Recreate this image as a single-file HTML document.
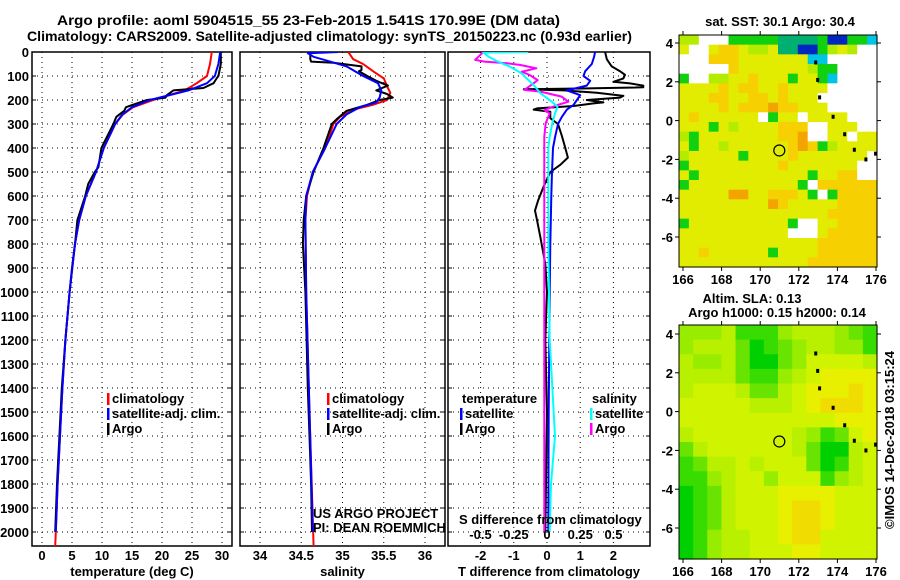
<!DOCTYPE html>
<html><head><meta charset="utf-8"><style>
html,body{margin:0;padding:0;background:#fff;}
svg{display:block;font-family:"Liberation Sans",Arial,sans-serif;}
.b{font-weight:bold;font-size:13px;}
</style></head><body>
<svg id="fig" width="900" height="580" viewBox="0 0 900 580" xmlns="http://www.w3.org/2000/svg">
<rect width="900" height="580" fill="#fff"/>
<text x="57" y="25" font-size="14" font-weight="bold" textLength="503" lengthAdjust="spacingAndGlyphs">Argo profile: aoml 5904515_55 23-Feb-2015 1.541S 170.99E (DM data)</text>
<text x="27" y="41" font-size="14" font-weight="bold" textLength="605" lengthAdjust="spacingAndGlyphs">Climatology: CARS2009. Satellite-adjusted climatology: synTS_20150223.nc (0.93d earlier)</text>
<g id="panels"></g>
<g id="maps"></g>
</svg>
<script>
// ---------- profile data ----------
const tDepthArgo=[0,50,100,110,130,150,160,180,190,200,230,245,270,300,400,480,500,550,600,700,800,900,1000,1200,1400,1600,1800,2000];
const tArgo=[29.8,29.8,29.4,29.1,28.6,26.9,21.9,20.8,20.6,17.5,14.0,13.7,12.4,11.9,9.9,9.4,8.8,7.7,7.2,5.9,5.5,5.0,4.6,3.9,3.3,2.9,2.5,2.2];
const tDepthClim=[0,50,100,130,160,200,230,260,300,400,500,600,700,800,1000,1200,1400,1600,1800,2000,2060];
const tClim=[28.3,28.0,27.5,25.8,23.8,18.5,15.2,13.5,12.2,10.3,9.0,7.3,6.2,5.5,4.6,3.9,3.4,3.0,2.6,2.3,2.2];
const tDepthSat=[0,50,100,130,160,200,230,260,300,400,500,600,700,800,1000,1200,1400,1600,1800,2000];
const tSat=[29.7,29.4,28.8,27.5,24.4,18.0,15.0,13.4,12.2,10.3,9.0,7.3,6.2,5.5,4.6,3.9,3.4,3.0,2.6,2.3];

const sDepthArgo=[0,30,40,45,60,75,80,100,120,140,160,175,190,200,220,245,280,300,400,500,600,700,800,1000,1400,1600,1800,2000];
const sArgo=[34.61,34.61,34.62,34.89,35.23,35.23,35.20,35.30,35.41,35.55,35.41,35.54,35.61,35.45,35.30,35.05,34.93,34.87,34.77,34.65,34.56,34.53,34.52,34.55,34.58,34.60,34.62,34.63];
const sDepthClim=[0,30,50,80,110,150,170,200,220,240,270,300,400,500,600,700,1000,1500,2060];
const sClim=[35.07,35.13,35.25,35.37,35.50,35.55,35.58,35.54,35.37,35.13,34.97,34.89,34.79,34.64,34.57,34.55,34.56,34.60,34.65];
const sDepthSat=[0,5,20,40,60,100,130,160,190,210,230,260,300,400,500,600,700,1000,1500,2000];
const sSat=[34.95,34.58,34.65,34.85,35.05,35.25,35.43,35.47,35.45,35.41,35.21,35.05,34.93,34.79,34.64,34.56,34.55,34.56,34.60,34.64];

const dTDepthArgo=[0,30,60,80,95,110,124,131,140,147,152,155,160,170,183,190,200,210,214,225,235,240,249,276,300,350,400,440,470,500,560,620,661,700,772,883,1000,1200,1500,2000];
const dTArgo=[1.75,1.8,1.95,2.2,2.35,2.3,2.0,2.5,2.9,2.9,1.0,-0.7,0.5,1.5,2.3,2.2,1.2,1.7,1.4,0.8,-0.3,-0.4,0.1,0.1,0.33,0.45,0.55,0.63,0.4,0.1,-0.1,-0.27,-0.36,-0.3,-0.2,-0.05,0.0,-0.05,0.0,-0.05];
const dTDepthSat=[0,20,50,80,100,120,140,160,180,200,220,240,270,300,350,400,500,600,800,1000,1500,2000];
const dTSat=[1.45,1.42,1.35,1.15,1.1,1.3,1.2,0.6,1.0,0.9,0.8,0.6,0.45,0.33,0.25,0.18,0.15,0.13,0.1,0.08,0.05,0.04];
const dSDepthSat=[0,2,19,40,61,89,117,144,172,200,228,256,297,353,400,800,1200,1600,1800,2000];
const dSSat=[-0.14,-0.48,-0.44,-0.37,-0.28,-0.19,-0.14,-0.09,-0.05,0.02,0.08,0.06,0.04,0.02,0.01,0.01,0.02,0.06,0.03,0.02];
const dSDepthArgo=[0,33,40,47,54,68,82,96,117,130,158,165,186,207,221,242,256,297,353,800,1500,2000];
const dSArgo=[-0.48,-0.54,-0.47,-0.3,-0.2,-0.08,-0.19,-0.13,-0.07,-0.1,-0.17,-0.05,0.11,0.16,0.08,-0.02,0.02,-0.01,-0.02,-0.02,-0.02,-0.02];

const depthTicks=[0,100,200,300,400,500,600,700,800,900,1000,1100,1200,1300,1400,1500,1600,1700,1800,1900,2000];
const tTicks=[0,5,10,15,20,25,30];
const sTicks=[34,34.5,35,35.5,36];
const sTickLabels=["34","34.5","35","35.5","36"];
const dTTicks=[-2,-1,0,1,2];
const dSTicks=[-0.5,-0.25,0,0.25,0.5];
const dSTickLabels=["-0.5","-0.25","0","0.25","0.5"];

// ---------- map data ----------
const sstRows=[
"LLWWWGGGGGTTTTGBBGGC",
"YWWYOOYLLYTTBBGLYLWW",
"WWWOOOYYYYYYYCCWWWWW",
"WWWWWOYYYYYYYLGGWWWW",
"GWWLLYYOYYYGYYGCWWWW",
"YYYYOYOOYYOYYYYWWWWW",
"YYYOOYYOOYOYYYWWWWWW",
"YYYYOYOOOROOYYYWWWWW",
"YOYYYYYYWGYYWYYYYWWW",
"YYYGYLYYYYOOOWWYYYWW",
"LGYYYYYYYYOORWWYYWYY",
"YGYYLYYYYYYOROGLYYYY",
"LYYYYYGYYYYOYYYYYYYW",
"GYYYYYYYYYOYYYYYYYWW",
"YGYYYYYYYYYYYGYYOOWW",
"GYYYYYYYYYYYGWOOOOOO",
"YYYYYRRYYOOOYGWGOOOO",
"YYYYYYYYYROYYYYYOOOO",
"YYYYYYYYYYYYYYYOOOOO",
"GYYYYYYYYYYGWWYYOOOO",
"YYYYYYYYYYYWWWYOOOOO",
"YYYYYYYYYYYYYYOOOOOO",
"YYOYYYYYYGYYYYOOOOOO",
"YYYYYYYYYYYYYOOOOOOO"];
const slaRows=[
"44452224555432",
"45553123455442",
"54453113466665",
"55553224567777",
"56665335677787",
"66666555678887",
"66666666666777",
"56666666542367",
"35666666531156",
"23556566631256",
"22456646662456",
"12356667777666",
"12356667887666",
"12356667887666",
"12455667886666",
"12455666776666"];
const lonTicks=[166,168,170,172,174,176];
const latTicks=[4,2,0,-2,-4,-6];
const floatLon=170.99, floatLat=-1.541;

const NS="http://www.w3.org/2000/svg";
const panels=document.getElementById('panels');
const maps=document.getElementById('maps');
function mk(tag,attrs,parent){const e=document.createElementNS(NS,tag);for(const k in attrs)e.setAttribute(k,attrs[k]);(parent||panels).appendChild(e);return e;}
function txt(s,x,y,anchor,cls,parent,extra){const e=mk('text',Object.assign({x:x,y:y,'text-anchor':anchor||'middle','class':cls||'b'},extra||{}),parent);e.textContent=s;return e;}

const Y0=52, YPX=0.24, YBOT=546;
const yD=d=>Y0+d*YPX;

const P=[
 {x0:32,x1:232,fx:v=>42+v*6,ticks:tTicks,labels:tTicks.map(String),title:"temperature (deg C)",name:"temperature"},
 {x0:240,x1:445,fx:v=>260+(v-34)*82.5,ticks:sTicks,labels:sTickLabels,title:"salinity",name:"salinity"},
 {x0:448,x1:650,fx:v=>547+v*33.2,ticks:dTTicks,labels:dTTicks.map(String),title:"T difference from climatology",name:"difference"}
];
const fS=v=>547+v*133;

P.forEach((p,i)=>{
  const g=mk('g',{});
  
  
  depthTicks.forEach(d=>{ if(d>0){const l=mk('line',{x1:p.x0,x2:p.x1,y1:yD(d),y2:yD(d),stroke:'#000','stroke-width':1,'stroke-dasharray':'1,4'},g);}
    mk('line',{x1:p.x0,x2:p.x0+4,y1:yD(d),y2:yD(d),stroke:'#000'},g);
    mk('line',{x1:p.x1-4,x2:p.x1,y1:yD(d),y2:yD(d),stroke:'#000'},g);
  });
  p.ticks.forEach((v,j)=>{const x=p.fx(v);
    const l=mk('line',{x1:x,x2:x,y1:Y0,y2:YBOT,stroke:'#000','stroke-width':1,'stroke-dasharray':'1,4'},g);
    
    const t=txt(p.labels[j],x,560,'middle','b',g);
    
  });
  const r=mk('rect',{x:p.x0,y:Y0,width:p.x1-p.x0,height:YBOT-Y0,fill:'none',stroke:'#000','stroke-width':1.5},g);
  
  const at=txt(p.title,(p.x0+p.x1)/2,576,'middle','b',g);
  
});
depthTicks.forEach(d=>{const t=txt(String(d),29,yD(d)+5,'end','b');
  });

function line(depths,vals,fx,color,name,clip){
  const pts=depths.map((d,i)=>fx(vals[i]).toFixed(1)+','+yD(d).toFixed(1)).join(' ');
  const e=mk('polyline',{points:pts,fill:'none',stroke:color,'stroke-width':2,'stroke-linejoin':'round','clip-path':clip});
  
  
}
const defs=mk('defs',{});
P.forEach((p,i)=>{const c=mk('clipPath',{id:'cp'+i},defs);mk('rect',{x:p.x0,y:Y0,width:p.x1-p.x0,height:YBOT-Y0},c);});
line(tDepthClim,tClim,P[0].fx,'#f00','temp-climatology-line','url(#cp0)');
line(tDepthArgo,tArgo,P[0].fx,'#000','temp-argo-line','url(#cp0)');
line(tDepthSat,tSat,P[0].fx,'#00f','temp-satellite-line','url(#cp0)');
line(sDepthClim,sClim,P[1].fx,'#f00','sal-climatology-line','url(#cp1)');
line(sDepthArgo,sArgo,P[1].fx,'#000','sal-argo-line','url(#cp1)');
line(sDepthSat,sSat,P[1].fx,'#00f','sal-satellite-line','url(#cp1)');
line(dTDepthArgo,dTArgo,P[2].fx,'#000','tdiff-argo-line','url(#cp2)');
line(dTDepthSat,dTSat,P[2].fx,'#00f','tdiff-satellite-line','url(#cp2)');
line(dSDepthArgo,dSArgo,fS,'#f0f','sdiff-argo-line','url(#cp2)');
line(dSDepthSat,dSSat,fS,'#0ff','sdiff-satellite-line','url(#cp2)');

dSTicks.forEach((v,j)=>{const t=txt(dSTickLabels[j],fS(v),539,'middle','b');
  });
const sdt=txt('S difference from climatology',459,524,'start','b');


function legend(x,y,color,label,name){
  const m=mk('rect',{x:x,y:y-10,width:2.5,height:12,fill:color});
  
  const t=txt(label,x+5,y,'start','b');
  
}
legend(107,403,'#f00','climatology','legend-temp-climatology');
legend(107,418,'#00f','satellite-adj. clim.','legend-temp-satellite');
legend(107,433,'#000','Argo','legend-temp-argo');
legend(327,403,'#f00','climatology','legend-sal-climatology');
legend(327,418,'#00f','satellite-adj. clim.','legend-sal-satellite');
legend(327,433,'#000','Argo','legend-sal-argo');
const lt=txt('temperature',462,403,'start','b');
legend(460,418,'#00f','satellite','legend-tdiff-satellite');
legend(460,433,'#000','Argo','legend-tdiff-argo');
const ls=txt('salinity',592,403,'start','b');
legend(590,418,'#0ff','satellite','legend-sdiff-satellite');
legend(590,433,'#f0f','Argo','legend-sdiff-argo');

const c1=txt('US ARGO PROJECT',313,518,'start','',null,{'font-size':'12.5'});

const c2=txt('PI: DEAN ROEMMICH',313,532,'start','',null,{'font-size':'12.5'});


// ---------- maps ----------
const sstColor={Y:'#e2ec00',O:'#f6d000',R:'#f4a400',G:'#10d010',L:'#b4ec00',W:'#ffffff',C:'#00c4e4',B:'#0028c0',T:'#00b070'};
const slaColor=['#00c800','#00d000','#38dc00','#68e400','#98ec00','#b8f000','#d0f400','#e8f000','#f0dc00','#f0c800'];
function drawMap(m){
  const g=mk('g',{},maps);
  
  
  const lonX=lo=>683+(lo-166)*19.3;
  const latY=la=>m.y4+(4-la)*19.4;
  const rows=m.rows, nr=rows.length, nc=rows[0].length;
  const cw=(m.x1-m.x0)/nc, ch=(m.y1-m.y0)/nr;
  rows.forEach((row,ri)=>{for(let ci=0;ci<nc;ci++){
    const c=mk('rect',{x:(m.x0+ci*cw).toFixed(2),y:(m.y0+ri*ch).toFixed(2),width:(cw+0.6).toFixed(2),height:(ch+0.6).toFixed(2),fill:m.color(row[ci])},g);
    
    
  }});
  const f=mk('rect',{x:m.x0,y:m.y0,width:m.x1-m.x0,height:m.y1-m.y0,fill:'none',stroke:'#000','stroke-width':1},g);
  
  lonTicks.forEach(lo=>{const x=lonX(lo);
    mk('line',{x1:x,x2:x,y1:m.y1,y2:m.y1+4,stroke:'#000'},g);mk('line',{x1:x,x2:x,y1:m.y0,y2:m.y0-4,stroke:'#000'},g);
    const t=txt(String(lo),x,m.y1+17,'middle','b',g);});
  latTicks.forEach(la=>{const y=latY(la);
    mk('line',{x1:m.x0-4,x2:m.x0,y1:y,y2:y,stroke:'#000'},g);mk('line',{x1:m.x1,x2:m.x1+4,y1:y,y2:y,stroke:'#000'},g);
    const t=txt(String(la),673,y+5,'end','b',g);});
  const fc=mk('circle',{cx:lonX(floatLon),cy:latY(floatLat),r:5.5,fill:'none',stroke:'#000','stroke-width':1.2},g);
  
  [[172.8,3.1],[172.9,2.2],[173.0,1.3],[173.7,0.3],[174.3,-0.6],[174.8,-1.4],[175.4,-1.9],[175.9,-1.6]].forEach(p=>{
    const s=mk('rect',{x:lonX(p[0]),y:latY(p[1]),width:3,height:4,fill:'#000'},g);
    });
}
drawMap({name:'sst-map',x0:679,x1:877,y0:35,y1:267,y4:43,rows:sstRows,color:ch=>sstColor[ch]});
drawMap({name:'sla-map',x0:679,x1:877,y0:325,y1:559,y4:334,rows:slaRows,color:ch=>slaColor[+ch]});

const mt1=txt('sat. SST: 30.1 Argo: 30.4',780,26,'middle','b',maps);

const mt2=txt('Altim. SLA: 0.13',752,303,'middle','b',maps);

const mt3=txt('Argo h1000: 0.15 h2000: 0.14',777,317,'middle','b',maps);

const cr=txt('©IMOS 14-Dec-2018 03:15:24',0,0,'middle','',maps,{'font-size':'12.5',transform:'translate(894,440) rotate(-90)'});

</script>
</body></html>
